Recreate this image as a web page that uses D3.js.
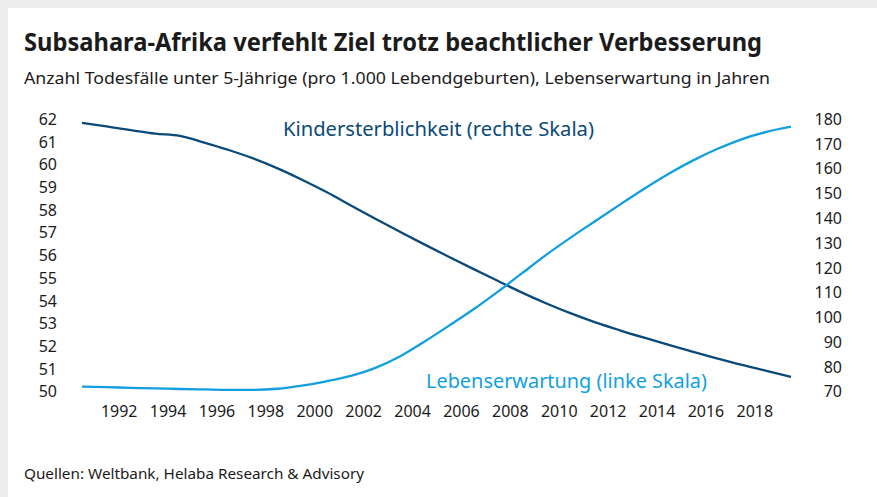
<!DOCTYPE html>
<html>
<head>
<meta charset="utf-8">
<script src="https://cdn.jsdelivr.net/npm/d3@7"></script>
<style>
  html, body { margin: 0; padding: 0; background: #fff; }
  svg { display: block; }
  text { font-family: "Noto Sans", "Open Sans", sans-serif; }
</style>
</head>
<body>
<div id="chart"></div>
<script>
// years 1990..2019
const years = d3.range(1990, 2020);
// Kindersterblichkeit, Todesfaelle unter 5 J. je 1.000 Lebendgeburten (rechte Skala)
const mortality = [178.6, 177.1, 175.6, 174.2, 173.3, 170.6, 167.6, 164.2, 160.2, 155.6,
  150.6, 145.2, 139.8, 134.6, 129.5, 124.5, 119.6, 114.8, 110.0, 105.6,
  101.6, 98.0, 94.8, 91.8, 88.9, 86.1, 83.4, 80.8, 78.4, 76.0];
// Lebenserwartung in Jahren (linke Skala)
const lifeExp = [50.22, 50.20, 50.17, 50.15, 50.12, 50.10, 50.08, 50.08, 50.13, 50.27,
  50.46, 50.70, 51.05, 51.55, 52.20, 52.90, 53.62, 54.40, 55.22, 56.04,
  56.80, 57.52, 58.24, 58.94, 59.60, 60.19, 60.70, 61.13, 61.45, 61.68];
const xTickYears = d3.range(1992, 2019, 2);
const leftTicks = d3.range(50, 63, 1);
const rightTicks = d3.range(70, 181, 10);

const width = 877, height = 497;
const dark = '#0b4a78', light = '#129fe0', ink = '#1b1b1b';

const svg = d3.select('#chart').append('svg')
  .attr('width', width)
  .attr('height', height);

// grey frame at top and left
svg.append('rect').attr('width', width).attr('height', height).attr('fill', '#ededed');
svg.append('rect').attr('x', 8).attr('y', 8).attr('width', width - 8).attr('height', height - 8).attr('fill', '#fff');

// scales
const x = d3.scaleLinear().domain([1990, 2019]).range([82, 791]);
// year labels sit at the start of each year's band
const xLabel = d3.scaleLinear().domain([1990.5, 2019.5]).range([82, 791]);
const yLeft = d3.scaleLinear().domain([50, 62]).range([391.7, 119.3]);
const yRight = d3.scaleLinear().domain([70, 180]).range([391.7, 119.3]);

function fitText(sel, w) {
  sel.attr('textLength', w).attr('lengthAdjust', 'spacingAndGlyphs');
  return sel;
}

// title + subtitle
fitText(svg.append('text')
  .attr('x', 24).attr('y', 51)
  .attr('fill', ink)
  .style('font-size', '25px')
  .style('font-weight', 'bold')
  .text('Subsahara-Afrika verfehlt Ziel trotz beachtlicher Verbesserung'), 738);

fitText(svg.append('text')
  .attr('x', 24).attr('y', 84)
  .attr('fill', ink)
  .style('font-size', '17px')
  .text('Anzahl Todesfälle unter 5-Jährige (pro 1.000 Lebendgeburten), Lebenserwartung in Jahren'), 746);

// axes (labels only, no lines)
const leftAxis = svg.append('g')
  .attr('transform', 'translate(64,0)')
  .call(d3.axisLeft(yLeft).tickValues(leftTicks).tickSize(0).tickPadding(7).tickFormat(d3.format('d')));
const rightAxis = svg.append('g')
  .attr('transform', 'translate(835,0)')
  .call(d3.axisLeft(yRight).tickValues(rightTicks).tickSize(0).tickPadding(-7).tickFormat(d3.format('d')));
const bottomAxis = svg.append('g')
  .attr('transform', 'translate(0,400)')
  .call(d3.axisBottom(xLabel).tickValues(xTickYears).tickSize(0).tickPadding(6).tickFormat(d3.format('d')));

[leftAxis, rightAxis, bottomAxis].forEach(a => {
  a.select('.domain').remove();
  a.selectAll('text')
    .attr('fill', ink)
    .style('font-size', '16px')
    .style('font-family', '"Noto Sans", sans-serif');
});
leftAxis.selectAll('text').attr('x', -7);
rightAxis.selectAll('text').attr('x', 7).attr('text-anchor', 'end');

// lines
const mortLine = d3.line()
  .x((d, i) => x(years[i]))
  .y(d => yRight(d))
  .curve(d3.curveMonotoneX);
const lifeLine = d3.line()
  .x((d, i) => x(years[i]))
  .y(d => yLeft(d))
  .curve(d3.curveMonotoneX);

svg.append('path')
  .datum(mortality)
  .attr('d', mortLine)
  .attr('fill', 'none')
  .attr('stroke', dark)
  .attr('stroke-width', 2.3);

svg.append('path')
  .datum(lifeExp)
  .attr('d', lifeLine)
  .attr('fill', 'none')
  .attr('stroke', light)
  .attr('stroke-width', 2.3);

// series labels
fitText(svg.append('text')
  .attr('x', 283).attr('y', 136)
  .attr('fill', dark)
  .style('font-size', '19.5px')
  .text('Kindersterblichkeit (rechte Skala)'), 311);

fitText(svg.append('text')
  .attr('x', 426).attr('y', 388)
  .attr('fill', light)
  .style('font-size', '19.5px')
  .text('Lebenserwartung (linke Skala)'), 281);

// source
fitText(svg.append('text')
  .attr('x', 24).attr('y', 479)
  .attr('fill', ink)
  .style('font-size', '15px')
  .text('Quellen: Weltbank, Helaba Research & Advisory'), 340);
</script>
</body>
</html>
